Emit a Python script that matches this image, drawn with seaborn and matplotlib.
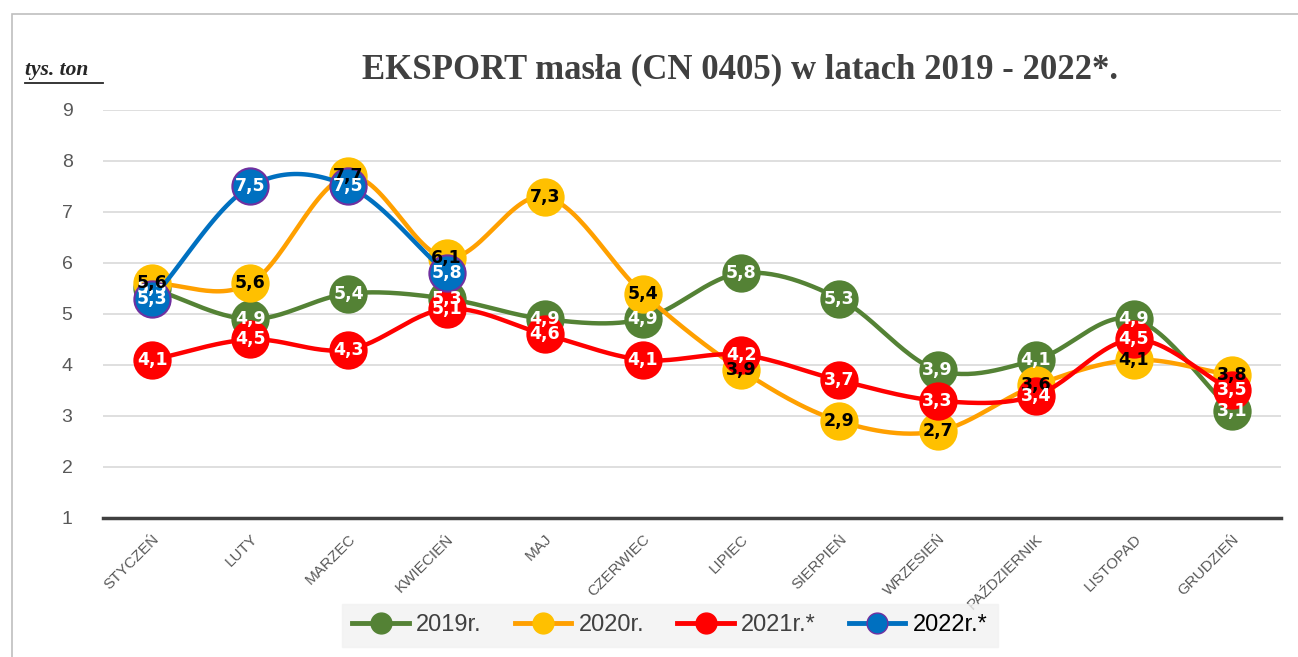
import numpy as np
import pandas as pd
import matplotlib
matplotlib.use("Agg")
import matplotlib.pyplot as plt
import seaborn as sns
from matplotlib.lines import Line2D
from matplotlib.patches import Rectangle

# ── DATA ────────────────────────────────────────────────
months = ["STYCZEŃ", "LUTY", "MARZEC", "KWIECIEŃ", "MAJ", "CZERWIEC",
          "LIPIEC", "SIERPIEŃ", "WRZESIEŃ", "PAŹDZIERNIK", "LISTOPAD", "GRUDZIEŃ"]
v2019 = [5.5, 4.9, 5.4, 5.3, 4.9, 4.9, 5.8, 5.3, 3.9, 4.1, 4.9, 3.1]
v2020 = [5.6, 5.6, 7.7, 6.1, 7.3, 5.4, 3.9, 2.9, 2.7, 3.6, 4.1, 3.8]
v2021 = [4.1, 4.5, 4.3, 5.1, 4.6, 4.1, 4.2, 3.7, 3.3, 3.4, 4.5, 3.5]
v2022 = [5.3, 7.5, 7.5, 5.8]
series_names = ["2019r.", "2020r.", "2021r.*", "2022r.*"]

# ── STYLE per series ─────────────────────────────────────
styles = {
    "2019r.":  dict(line="#548235", face="#548235", edge="#548235", txt="white"),
    "2020r.":  dict(line="#FFA000", face="#FFC000", edge="#FFC000", txt="black"),
    "2021r.*": dict(line="#FF0000", face="#FF0000", edge="#FF0000", txt="white"),
    "2022r.*": dict(line="#0070C0", face="#0070C0", edge="#7030A0", txt="white"),
}


def smooth(x, y, n=30):
    # Catmull-Rom curve through the points (Excel "smoothed line" look)
    x = np.asarray(x, float)
    y = np.asarray(y, float)
    px = np.concatenate([[2 * x[0] - x[1]], x, [2 * x[-1] - x[-2]]])
    py = np.concatenate([[2 * y[0] - y[1]], y, [2 * y[-1] - y[-2]]])
    xs, ys = [], []
    t = np.linspace(0, 1, n)
    for i in range(1, len(px) - 2):
        for p, out in ((px, xs), (py, ys)):
            p0, p1, p2, p3 = p[i - 1], p[i], p[i + 1], p[i + 2]
            out.extend(0.5 * (2 * p1 + (-p0 + p2) * t
                              + (2 * p0 - 5 * p1 + 4 * p2 - p3) * t ** 2
                              + (-p0 + 3 * p1 - 3 * p2 + p3) * t ** 3))
    return np.array(xs), np.array(ys)


fig = plt.figure(figsize=(12.98, 6.57), dpi=100)
ax = fig.add_axes([0.0794, 0.2116, 0.9076, 0.621])

all_vals = [v2019, v2020, v2021, v2022]
for k, (name, vals) in enumerate(zip(series_names, all_vals)):
    st = styles[name]
    xi = np.arange(len(vals))
    sx, sy = smooth(xi, vals)
    sns.lineplot(x=sx, y=sy, sort=False, ax=ax, color=st["line"],
                 linewidth=3.2, zorder=2 + k * 2, legend=False)
    df = pd.DataFrame({"x": xi, "y": vals})
    sns.scatterplot(data=df, x="x", y="y", ax=ax, s=680, color=st["face"],
                    edgecolor=st["edge"], linewidth=1.5, zorder=3 + k * 2,
                    legend=False)

# data labels on top of everything
for name, vals in zip(series_names, all_vals):
    st = styles[name]
    for i, v in enumerate(vals):
        ax.text(i, v, f"{v:.1f}".replace(".", ","), ha="center", va="center",
                fontsize=12.5, fontweight="bold", color=st["txt"], zorder=20,
                family="DejaVu Sans")

ax.set_xlim(-0.5, 11.5)
ax.set_ylim(1, 9)
ax.set_yticks(range(1, 10))
ax.set_xticks(range(12))
ax.set_xticklabels(months, rotation=45, ha="right", va="top",
                   rotation_mode="anchor", fontsize=11, color="#595959",
                   family="Liberation Sans")
for lab in ax.get_yticklabels():
    lab.set_fontsize(14)
    lab.set_color("#595959")
    lab.set_family("Liberation Sans")
ax.tick_params(axis="both", length=0)
ax.tick_params(axis="y", pad=22)
ax.tick_params(axis="x", pad=10)
ax.grid(axis="y", color="#D9D9D9", linewidth=1.2, zorder=0)
ax.set_axisbelow(True)
for s in ["top", "right", "left"]:
    ax.spines[s].set_visible(False)
ax.spines["bottom"].set_color("#404040")
ax.spines["bottom"].set_linewidth(2.5)
ax.set_xlabel("")
ax.set_ylabel("")

# title and unit
fig.text(0.570, 0.893, "EKSPORT masła (CN 0405) w latach 2019 - 2022*.",
         ha="center", va="center", fontsize=25, fontweight="bold",
         color="#404040", family="Liberation Serif")
fig.text(0.019, 0.893, "tys. ton", ha="left", va="center", fontsize=15.5,
         fontweight="bold", style="italic", color="#262626",
         family="Liberation Serif")
fig.add_artist(Line2D([0.019, 0.079], [0.873, 0.873], color="#262626",
                      linewidth=1.3))

# frame of the chart area
fig.add_artist(Rectangle((12 / 1298, -0.05), 1.2, 1 - 14 / 657 + 0.05,
                         transform=fig.transFigure, fill=False,
                         edgecolor="#BFBFBF", linewidth=1.2))

# legend
handles = []
for name in series_names:
    st = styles[name]
    handles.append(Line2D([], [], color=st["line"], linewidth=3.5, marker="o",
                          markersize=15, markerfacecolor=st["face"],
                          markeredgecolor=st["edge"]))
leg = fig.legend(handles, series_names, loc="center", ncol=4,
                 bbox_to_anchor=(0.516, 0.048), frameon=True, fancybox=False,
                 prop={"family": "Liberation Sans", "size": 17},
                 handlelength=2.4, handletextpad=0.3, columnspacing=1.4,
                 borderpad=0.45)
leg.get_frame().set_facecolor("#F2F2F2")
leg.get_frame().set_edgecolor("#F2F2F2")
for t, c in zip(leg.get_texts(), ["#404040", "#404040", "#404040", "black"]):
    t.set_color(c)

fig.savefig("out.png", dpi=100)
